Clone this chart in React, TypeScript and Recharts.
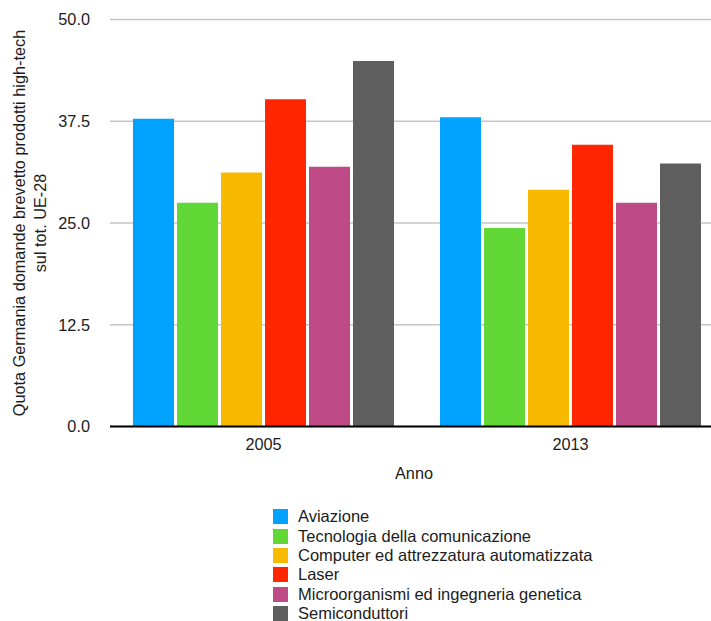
import React from 'react';
import { BarChart, Bar, XAxis, YAxis, CartesianGrid, Label } from 'recharts';

const categories = ['2005', '2013'];
const aviazione = [37.8, 38.0];
const tecnologia = [27.5, 24.4];
const computer = [31.2, 29.1];
const laser = [40.2, 34.6];
const micro = [31.9, 27.5];
const semi = [44.9, 32.3];
const yTicks = [0, 12.5, 25, 37.5, 50];

const seriesNames = [
  'Aviazione',
  'Tecnologia della comunicazione',
  'Computer ed attrezzatura automatizzata',
  'Laser',
  'Microorganismi ed ingegneria genetica',
  'Semiconduttori',
];
const seriesKeys = ['aviazione', 'tecnologia', 'computer', 'laser', 'micro', 'semi'];
const seriesColors = ['#00A2FF', '#61D836', '#F8BA00', '#FF2600', '#BE4A87', '#5E5E5E'];

const data = categories.map((c, i) => ({
  anno: c,
  aviazione: aviazione[i],
  tecnologia: tecnologia[i],
  computer: computer[i],
  laser: laser[i],
  micro: micro[i],
  semi: semi[i],
}));

const FONT = '"Liberation Sans", Arial, Helvetica, sans-serif';
const TEXT = '#1c1c1c';
const FS = 16.3;

const YLabel = (props: any) => {
  const vb = props.viewBox || { x: 0, y: 20, width: 110, height: 406 };
  const cy = vb.y + vb.height / 2;
  const cx = 24.5;
  return (
    <text
      x={cx}
      y={cy}
      transform={`rotate(-90, ${cx}, ${cy})`}
      textAnchor="middle"
      fontFamily={FONT}
      fontSize={FS}
      fill={TEXT}
    >
      <tspan x={cx} dy={0}>Quota Germania domande brevetto prodotti high-tech</tspan>
      <tspan x={cx} dy={21}>sul tot. UE-28</tspan>
    </text>
  );
};

const XLabel = (props: any) => {
  const vb = props.viewBox || { x: 110, y: 426, width: 614, height: 190 };
  return (
    <text
      x={vb.x + vb.width / 2 - 3}
      y={vb.y + 52.5}
      textAnchor="middle"
      fontFamily={FONT}
      fontSize={FS}
      fill={TEXT}
    >
      Anno
    </text>
  );
};

export default function App() {
  return (
    <div
      style={{
        position: 'absolute',
        left: 0,
        top: 0,
        width: 711,
        height: 621,
        overflow: 'hidden',
        background: '#fff',
        fontFamily: FONT,
      }}
    >
      <BarChart
        width={724}
        height={621}
        data={data}
        margin={{ top: 19.5, right: 0, left: 0, bottom: 0 }}
        barCategoryGap={23}
        barGap={3}
      >
        <CartesianGrid vertical={false} stroke="#c6c6c6" strokeWidth={1.5} />
        <YAxis
          type="number"
          domain={[0, 50]}
          ticks={yTicks}
          tickFormatter={(v: number) => v.toFixed(1)}
          width={110}
          axisLine={false}
          tickLine={false}
          tickMargin={14}
          tick={{ fill: TEXT, fontSize: FS, fontFamily: FONT }}
          label={<Label content={YLabel} />}
        />
        <XAxis
          dataKey="anno"
          height={194.5}
          axisLine={{ stroke: '#000', strokeWidth: 1.8 }}
          tickLine={false}
          tickMargin={6}
          tick={{ fill: TEXT, fontSize: FS, fontFamily: FONT }}
          label={<Label content={XLabel} />}
        />
        {seriesKeys.map((k, i) => (
          <Bar
            key={k}
            dataKey={k}
            name={seriesNames[i]}
            fill={seriesColors[i]}
            isAnimationActive={false}
          />
        ))}
      </BarChart>
      <div
        style={{
          position: 'absolute',
          left: 273,
          top: 507,
          fontFamily: FONT,
          fontSize: 16.5,
          color: TEXT,
        }}
      >
        {seriesNames.map((n, i) => (
          <div
            key={n}
            style={{ display: 'flex', alignItems: 'center', height: 19.4, whiteSpace: 'nowrap' }}
          >
            <div style={{ width: 15, height: 15, background: seriesColors[i], marginRight: 10, flexShrink: 0 }} />
            <span>{n}</span>
          </div>
        ))}
      </div>
    </div>
  );
}
